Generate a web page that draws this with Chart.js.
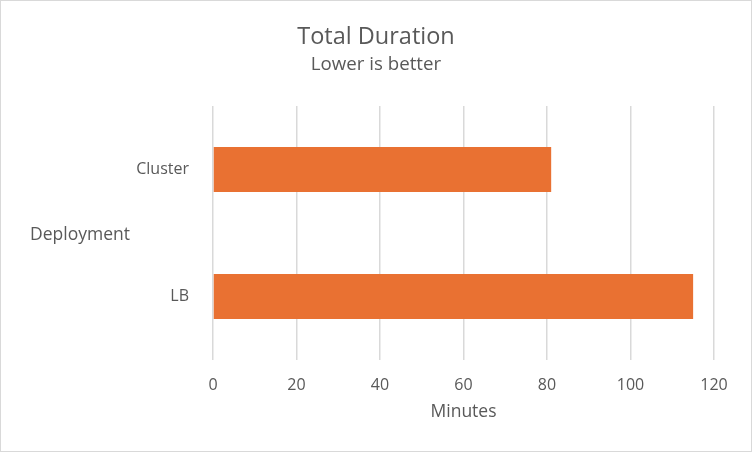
<!DOCTYPE html>
<html>
<head>
<meta charset="utf-8">
<script src="https://cdn.jsdelivr.net/npm/chart.js@4"></script>
<style>
  html, body { margin: 0; padding: 0; background: #fff; }
  #wrap { width: 752px; height: 452px; box-sizing: border-box; border: 1px solid #d9d9d9; }
</style>
</head>
<body>
<div id="wrap"><canvas id="chart" width="750" height="450"></canvas></div>
<script>
const categories = ['Cluster', 'LB'];
const minutes = [81, 115];
const xTicks = [0, 20, 40, 60, 80, 100, 120];

const textColor = '#595959';

// titles centred on the whole canvas and a horizontal y axis title
const chartText = {
  id: 'chartText',
  afterDraw(chart) {
    const c = chart.ctx;
    const area = chart.chartArea;
    c.save();
    c.fillStyle = textColor;
    c.textBaseline = 'alphabetic';
    c.textAlign = 'center';
    c.font = '23.5px "Open Sans"';
    c.fillText('Total Duration', chart.width / 2, 43);
    c.font = '18.7px "Open Sans"';
    c.fillText('Lower is better', chart.width / 2, 69);
    c.textAlign = 'left';
    c.textBaseline = 'middle';
    c.font = '17.5px "Open Sans"';
    c.fillText('Deployment', 29, (area.top + area.bottom) / 2 + 2);
    c.restore();
  }
};

new Chart(document.getElementById('chart'), {
  type: 'bar',
  data: {
    labels: categories,
    datasets: [{
      label: 'Total Duration',
      data: minutes,
      backgroundColor: '#E97132',
      barPercentage: 0.355,
      categoryPercentage: 1
    }]
  },
  options: {
    indexAxis: 'y',
    responsive: false,
    animation: false,
    layout: { padding: { top: 105, right: 37, bottom: 28, left: 0 } },
    plugins: {
      legend: { display: false },
      tooltip: { enabled: false }
    },
    scales: {
      x: {
        min: 0,
        max: 120,
        afterBuildTicks(scale) {
          scale.ticks = xTicks.map(v => ({ value: v }));
        },
        afterFit(scale) { scale.height = 63; },
        grid: { color: '#d9d9d9', lineWidth: 1.5, drawTicks: false },
        border: { display: false },
        ticks: { color: textColor, font: { family: '"Open Sans"', size: 16 }, padding: 16 },
        title: {
          display: true,
          text: 'Minutes',
          color: textColor,
          font: { family: '"Open Sans"', size: 17.5 },
          padding: { top: 0, bottom: 0 }
        }
      },
      y: {
        afterFit(scale) { scale.width = 212; },
        grid: { display: false },
        border: { display: false },
        ticks: { color: textColor, font: { family: '"Open Sans"', size: 16 }, padding: 16 }
      }
    }
  },
  plugins: [chartText]
});
</script>
</body>
</html>
